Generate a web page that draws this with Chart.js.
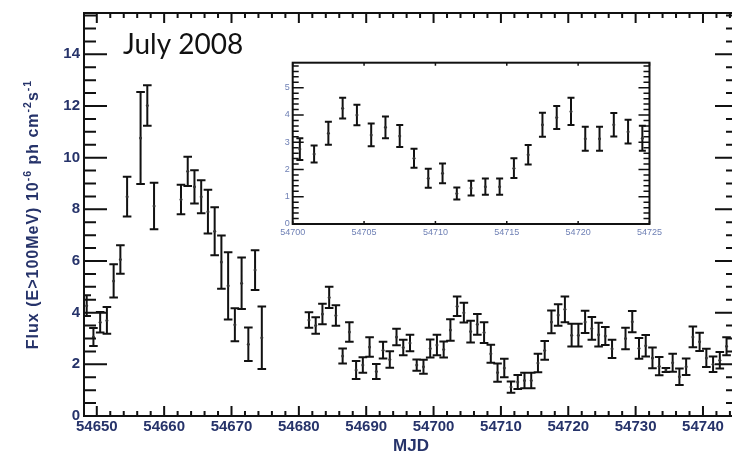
<!DOCTYPE html>
<html>
<head>
<meta charset="utf-8">
<script src="https://cdn.jsdelivr.net/npm/chart.js@4.4.1/dist/chart.umd.min.js"></script>
<style>
  html, body { margin: 0; padding: 0; background: #fff; overflow: hidden; }
  #wrap { position: relative; width: 732px; height: 460px; overflow: hidden; }
  #main { position: absolute; left: 0; top: 0; }
  #inset { position: absolute; left: 270px; top: 50px; }
</style>
</head>
<body>
<div id="wrap">
  <canvas id="main" width="745" height="460"></canvas>
  <canvas id="inset" width="395" height="195"></canvas>
</div>
<script>
// Daily binned light curve: MJD, flux (E>100 MeV, 1e-6 ph cm^-2 s^-1), 1-sigma error
const mjd = [
  54648.5, 54649.5, 54650.5, 54651.5, 54652.5, 54653.5, 54654.5,
  54656.5, 54657.5, 54658.5,
  54662.5, 54663.5, 54664.5, 54665.5, 54666.5, 54667.5, 54668.5, 54669.5, 54670.5, 54671.5, 54672.5, 54673.5, 54674.5,
  54681.5, 54682.5, 54683.5, 54684.5, 54685.5, 54686.5, 54687.5, 54688.5, 54689.5, 54690.5,
  54691.5, 54692.5, 54693.5, 54694.5, 54695.5, 54696.5, 54697.5, 54698.5, 54699.5,
  54700.5, 54701.5, 54702.5, 54703.5, 54704.5, 54705.5, 54706.5, 54707.5, 54708.5, 54709.5,
  54710.5, 54711.5, 54712.5, 54713.5, 54714.5, 54715.5, 54716.5, 54717.5, 54718.5, 54719.5,
  54720.5, 54721.5, 54722.5, 54723.5, 54724.5, 54725.5, 54726.5,
  54728.5, 54729.5, 54730.5, 54731.5, 54732.5, 54733.5, 54734.5, 54735.5, 54736.5, 54737.5,
  54738.5, 54739.5, 54740.5, 54741.5, 54742.5, 54743.5
];
const flux = [
  4.27, 3.06, 3.63, 3.70, 5.23, 6.06, 8.49,
  10.76, 12.02, 8.13,
  8.38, 9.47, 8.87, 8.49, 7.91, 7.15, 5.96, 5.04, 3.53, 5.14, 2.78, 5.65, 3.03,
  3.72, 3.50, 3.95, 4.59, 3.89, 2.32, 3.25, 1.78, 1.97, 2.67,
  1.72, 2.55, 2.19, 3.06, 2.65, 2.83, 1.97, 1.91, 2.61,
  2.75, 2.57, 3.33, 4.25, 4.00, 3.27, 3.55, 3.23, 2.41, 1.68,
  1.86, 1.12, 1.32, 1.37, 1.37, 2.05, 2.54, 3.64, 3.91, 4.13,
  3.13, 3.13, 3.64, 3.39, 3.15, 3.10, 2.60,
  3.00, 3.65, 2.62, 2.72, 2.25, 1.93, 1.78, 2.06, 1.52, 1.91,
  3.06, 2.87, 2.25, 2.00, 2.16, 2.70
];
const fluxErr = [
  0.40, 0.35, 0.40, 0.52, 0.64, 0.55, 0.77,
  1.78, 0.78, 0.90,
  0.57, 0.57, 0.64, 0.64, 0.85, 0.93, 1.03, 1.30, 0.64, 1.00, 0.65, 0.77, 1.21,
  0.30, 0.32, 0.40, 0.41, 0.40, 0.29, 0.38, 0.35, 0.30, 0.38,
  0.29, 0.32, 0.32, 0.32, 0.30, 0.32, 0.22, 0.27, 0.35,
  0.40, 0.31, 0.42, 0.38, 0.38, 0.42, 0.40, 0.40, 0.35, 0.35,
  0.36, 0.22, 0.27, 0.30, 0.30, 0.36, 0.36, 0.44, 0.42, 0.50,
  0.44, 0.44, 0.43, 0.44, 0.46, 0.35, 0.35,
  0.42, 0.41, 0.40, 0.42, 0.40, 0.35, 0.08, 0.35, 0.32, 0.32,
  0.40, 0.35, 0.35, 0.30, 0.32, 0.35
];

const mainXTicks = [54650, 54660, 54670, 54680, 54690, 54700, 54710, 54720, 54730, 54740];
const mainYTicks = [0, 2, 4, 6, 8, 10, 12, 14];
const insetXTicks = [54700, 54705, 54710, 54715, 54720, 54725];
const insetYTicks = [0, 1, 2, 3, 4, 5];

const periodText = 'July 2008';
// y title pieces: [text, superscript?]
const yTitleParts = [['Flux (E>100MeV) 10', false], ['-6', true], [' ph cm', false], ['-2', true], ['s', false], ['-1', true]];

const FONT = 'Liberation Sans';
const INK = '#111';
const LABEL_BLUE = '#26336a';

// vertical error bars with caps, drawn through the chart's own scales
const errorBars = {
  id: 'errorBars',
  beforeDatasetsDraw(chart, args, o) {
    const { ctx, chartArea: a, scales: { x, y } } = chart;
    ctx.save();
    ctx.beginPath();
    ctx.rect(a.left, a.top, a.width, a.height);
    ctx.clip();
    ctx.strokeStyle = INK;
    ctx.lineWidth = o.width;
    ctx.beginPath();
    chart.data.datasets[0].data.forEach(p => {
      const px = x.getPixelForValue(p.x);
      const hi = y.getPixelForValue(p.y + p.err);
      const lo = y.getPixelForValue(p.y - p.err);
      ctx.moveTo(px, hi); ctx.lineTo(px, lo);
      ctx.moveTo(px - o.cap, hi); ctx.lineTo(px + o.cap, hi);
      ctx.moveTo(px - o.cap, lo); ctx.lineTo(px + o.cap, lo);
    });
    ctx.stroke();
    ctx.restore();
  }
};

function drawTicks(ctx, scale, a, spec) {
  const horiz = scale.isHorizontal();
  for (let i = 0; ; i++) {
    const v = spec.start + i * spec.step;
    if (v > scale.max + 1e-6) break;
    if (v < scale.min - 1e-6) continue;
    const isMajor = Math.abs(v / spec.major - Math.round(v / spec.major)) < 1e-6;
    const len = isMajor ? spec.majorLen : spec.minorLen;
    const p = scale.getPixelForValue(v);
    if (horiz) {
      ctx.moveTo(p, a.bottom); ctx.lineTo(p, a.bottom - len);
      ctx.moveTo(p, a.top); ctx.lineTo(p, a.top + len);
    } else {
      ctx.moveTo(a.left, p); ctx.lineTo(a.left + len, p);
      ctx.moveTo(a.right, p); ctx.lineTo(a.right - len, p);
    }
  }
}

// closed frame with inward ticks on all four sides
const frameTicks = {
  id: 'frameTicks',
  afterDraw(chart, args, o) {
    const { ctx, chartArea: a, scales: { x, y } } = chart;
    ctx.save();
    ctx.strokeStyle = INK;
    ctx.lineWidth = o.tickWidth;
    ctx.beginPath();
    drawTicks(ctx, x, a, o.x);
    drawTicks(ctx, y, a, o.y);
    ctx.stroke();
    ctx.lineWidth = o.frameWidth;
    ctx.strokeRect(a.left, a.top, a.width, a.height);
    ctx.restore();
  }
};

// rotated y title with superscripts, plus the period label
const mainText = {
  id: 'mainText',
  afterDraw(chart) {
    const { ctx, chartArea: a } = chart;
    ctx.save();
    ctx.fillStyle = INK;
    ctx.font = '28px Lato';
    ctx.textBaseline = 'alphabetic';
    ctx.textAlign = 'left';
    ctx.fillText(periodText, 123, 54);

    const size = 16, supSize = 10.5;
    const fontFor = sup => 'bold ' + (sup ? supSize : size) + 'px "' + FONT + '"';
    ctx.letterSpacing = '1px';
    let total = 0;
    yTitleParts.forEach(([t, sup]) => { ctx.font = fontFor(sup); total += ctx.measureText(t).width; });
    ctx.translate(33.5, (a.top + a.bottom) / 2);
    ctx.rotate(-Math.PI / 2);
    ctx.fillStyle = LABEL_BLUE;
    ctx.textBaseline = 'middle';
    let cx = -total / 2;
    yTitleParts.forEach(([t, sup]) => {
      ctx.font = fontFor(sup);
      ctx.fillText(t, cx, sup ? -5.5 : 0);
      cx += ctx.measureText(t).width;
    });
    ctx.restore();
  }
};

function points(filter) {
  return mjd.map((d, i) => ({ x: d, y: flux[i], err: fluxErr[i] })).filter(filter);
}

function axis(min, max, tickVals, font, color, padding, fit) {
  return {
    type: 'linear', min: min, max: max,
    grid: { display: false, drawTicks: false },
    border: { display: false },
    afterBuildTicks: s => { s.ticks = tickVals.map(v => ({ value: v })); },
    afterFit: fit,
    ticks: { font: font, color: color, padding: padding, maxRotation: 0, autoSkip: false, callback: v => String(v) }
  };
}

const tickFont = { family: FONT, size: 15, weight: 'bold' };
const mainX = axis(54648.1, 54745.2, mainXTicks, tickFont, LABEL_BLUE, 2, s => { s.height = 44; });
mainX.title = { display: true, text: 'MJD', color: LABEL_BLUE, font: { family: FONT, size: 17, weight: 'bold' }, padding: { top: 0, bottom: 3 } };

new Chart(document.getElementById('main'), {
  type: 'scatter',
  data: { datasets: [{ data: points(() => true), pointRadius: 1.5, pointBackgroundColor: '#333', pointBorderWidth: 0 }] },
  options: {
    responsive: false, animation: false,
    layout: { padding: { top: 9, right: 7, left: 0, bottom: 0 } },
    plugins: {
      legend: { display: false }, tooltip: { enabled: false },
      errorBars: { width: 2, cap: 4.3 },
      frameTicks: {
        tickWidth: 2, frameWidth: 2,
        x: { start: 54648, step: 2, major: 10, majorLen: 10, minorLen: 5 },
        y: { start: 0, step: 0.5, major: 2, majorLen: 23, minorLen: 12 }
      }
    },
    scales: {
      x: mainX,
      y: axis(0, 15.6, mainYTicks, tickFont, LABEL_BLUE, 4, s => { s.width = 84; })
    }
  },
  plugins: [errorBars, frameTicks, mainText]
});

// zoom on MJD 54700-54725
const insetFont = { family: FONT, size: 9 };
new Chart(document.getElementById('inset'), {
  type: 'scatter',
  data: { datasets: [{ data: points(p => p.x >= 54700 && p.x <= 54725), pointRadius: 1.5, pointBackgroundColor: '#333', pointBorderWidth: 0 }] },
  options: {
    responsive: false, animation: false,
    layout: { padding: { top: 12.7, right: 15, left: 0, bottom: 0 } },
    plugins: {
      legend: { display: false }, tooltip: { enabled: false },
      errorBars: { width: 2, cap: 3.5 },
      frameTicks: {
        tickWidth: 1.5, frameWidth: 2,
        x: { start: 54700, step: 5, major: 5, majorLen: 3, minorLen: 3 },
        y: { start: 0, step: 0.2, major: 1, majorLen: 11, minorLen: 6 }
      }
    },
    scales: {
      x: axis(54700, 54725, insetXTicks, insetFont, '#6f80b5', 3, s => { s.height = 21; }),
      y: axis(0, 5.92, insetYTicks, insetFont, '#6f80b5', 3, s => { s.width = 22.7; })
    }
  },
  plugins: [errorBars, frameTicks]
});
</script>
</body>
</html>
